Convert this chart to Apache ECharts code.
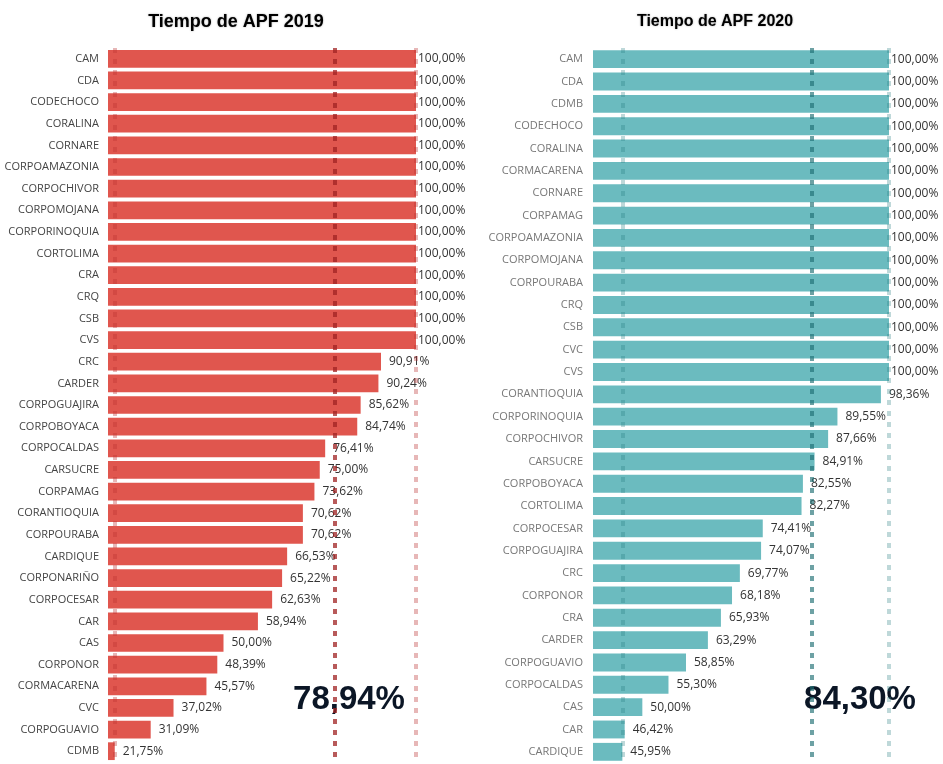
<!DOCTYPE html>
<html>
<head>
<meta charset="utf-8">
<script src="https://cdn.jsdelivr.net/npm/echarts@6/dist/echarts.min.js"></script>
<style>
  html, body { margin: 0; padding: 0; background: #fff; }
  #main { width: 943px; height: 764px; }
</style>
</head>
<body>
<div id="main"></div>
<script>
// datos 2019
var categorias2019 = ['CAM', 'CDA', 'CODECHOCO', 'CORALINA', 'CORNARE', 'CORPOAMAZONIA', 'CORPOCHIVOR',
  'CORPOMOJANA', 'CORPORINOQUIA', 'CORTOLIMA', 'CRA', 'CRQ', 'CSB', 'CVS', 'CRC', 'CARDER',
  'CORPOGUAJIRA', 'CORPOBOYACA', 'CORPOCALDAS', 'CARSUCRE', 'CORPAMAG', 'CORANTIOQUIA', 'CORPOURABA',
  'CARDIQUE', 'CORPONARIÑO', 'CORPOCESAR', 'CAR', 'CAS', 'CORPONOR', 'CORMACARENA', 'CVC',
  'CORPOGUAVIO', 'CDMB'];
var valores2019 = [100, 100, 100, 100, 100, 100, 100, 100, 100, 100, 100, 100, 100, 100, 90.91, 90.24,
  85.62, 84.74, 76.41, 75.00, 73.62, 70.62, 70.62, 66.53, 65.22, 62.63, 58.94, 50.00, 48.39, 45.57,
  37.02, 31.09, 21.75];

// datos 2020
var categorias2020 = ['CAM', 'CDA', 'CDMB', 'CODECHOCO', 'CORALINA', 'CORMACARENA', 'CORNARE', 'CORPAMAG',
  'CORPOAMAZONIA', 'CORPOMOJANA', 'CORPOURABA', 'CRQ', 'CSB', 'CVC', 'CVS', 'CORANTIOQUIA',
  'CORPORINOQUIA', 'CORPOCHIVOR', 'CARSUCRE', 'CORPOBOYACA', 'CORTOLIMA', 'CORPOCESAR', 'CORPOGUAJIRA',
  'CRC', 'CORPONOR', 'CRA', 'CARDER', 'CORPOGUAVIO', 'CORPOCALDAS', 'CAS', 'CAR', 'CARDIQUE'];
var valores2020 = [100, 100, 100, 100, 100, 100, 100, 100, 100, 100, 100, 100, 100, 100, 100, 98.36,
  89.55, 87.66, 84.91, 82.55, 82.27, 74.41, 74.07, 69.77, 68.18, 65.93, 63.29, 58.85, 55.30, 50.00,
  46.42, 45.95];

var titulos = ['Tiempo de APF 2019', 'Tiempo de APF 2020'];

function pct(v) {
  return v.toFixed(2).replace('.', ',') + '%';
}
function promedio(arr) {
  var s = 0;
  arr.forEach(function (v) { s += v; });
  return s / arr.length;
}
// las etiquetas de 100% quedan pegadas a la barra
function armarDatos(arr) {
  return arr.map(function (v) {
    return v >= 100 ? { value: v, label: { distance: 2 } } : v;
  });
}
// lineas de minimo, promedio y maximo
function lineas(claro, oscuro) {
  return {
    silent: true,
    symbol: ['none', 'none'],
    label: { show: false },
    data: [
      { type: 'min', lineStyle: { color: claro, width: 4, type: [5, 6] } },
      { type: 'average', lineStyle: { color: oscuro, width: 4, type: [5, 6] } },
      { type: 'max', lineStyle: { color: claro, width: 4, type: [5, 6] } }
    ]
  };
}

var myChart = echarts.init(document.getElementById('main'));

var option = {
  animation: false,
  title: [
    {
      text: titulos[0], left: 231, top: 8, textAlign: 'center',
      textStyle: { fontFamily: 'Liberation Sans', fontWeight: 'bold', fontSize: 18, color: '#000',
        textShadowColor: 'rgba(0,0,0,0.35)', textShadowBlur: 2 }
    },
    {
      text: titulos[1], left: 710, top: 9, textAlign: 'center',
      textStyle: { fontFamily: 'Liberation Sans', fontWeight: 'bold', fontSize: 16, color: '#000',
        textShadowColor: 'rgba(0,0,0,0.35)', textShadowBlur: 2 }
    }
  ],
  grid: [
    { left: 108, width: 308, top: 48, height: 714 },
    { left: 593, width: 296, top: 48, height: 715 }
  ],
  xAxis: [
    { gridIndex: 0, type: 'value', min: 20, max: 100, show: false },
    { gridIndex: 1, type: 'value', min: 40, max: 100, show: false }
  ],
  yAxis: [
    {
      gridIndex: 0, type: 'category', data: categorias2019, inverse: true,
      axisLine: { show: false }, axisTick: { show: false },
      axisLabel: { color: '#444', fontFamily: 'Open Sans', fontSize: 11, margin: 9 }
    },
    {
      gridIndex: 1, type: 'category', data: categorias2020, inverse: true,
      axisLine: { show: false }, axisTick: { show: false },
      axisLabel: { color: '#777', fontFamily: 'Open Sans', fontSize: 11, margin: 10 }
    }
  ],
  series: [
    {
      name: '2019', type: 'bar', xAxisIndex: 0, yAxisIndex: 0,
      data: armarDatos(valores2019),
      barCategoryGap: '18%',
      itemStyle: { color: '#E0564E' },
      label: {
        show: true, position: 'right', distance: 8, color: '#333',
        fontFamily: 'Open Sans', fontSize: 12,
        formatter: function (p) { return pct(p.value); }
      },
      markLine: lineas('rgba(185,50,50,0.35)', 'rgba(160,35,35,0.75)')
    },
    {
      name: '2020', type: 'bar', xAxisIndex: 1, yAxisIndex: 1,
      data: armarDatos(valores2020),
      barCategoryGap: '20%',
      itemStyle: { color: '#6BBBBF' },
      label: {
        show: true, position: 'right', distance: 8, color: '#333',
        fontFamily: 'Open Sans', fontSize: 12,
        formatter: function (p) { return pct(p.value); }
      },
      markLine: lineas('rgba(40,125,130,0.3)', 'rgba(30,110,115,0.65)')
    }
  ],
  graphic: [
    {
      type: 'text', x: 349, y: 700,
      style: { text: pct(promedio(valores2019)), fill: '#0B1626', fontFamily: 'Liberation Sans',
        fontWeight: 'bold', fontSize: 33, align: 'center', verticalAlign: 'middle' }
    },
    {
      type: 'text', x: 860, y: 700,
      style: { text: pct(promedio(valores2020)), fill: '#0B1626', fontFamily: 'Liberation Sans',
        fontWeight: 'bold', fontSize: 33, align: 'center', verticalAlign: 'middle' }
    }
  ]
};

myChart.setOption(option);
</script>
</body>
</html>
